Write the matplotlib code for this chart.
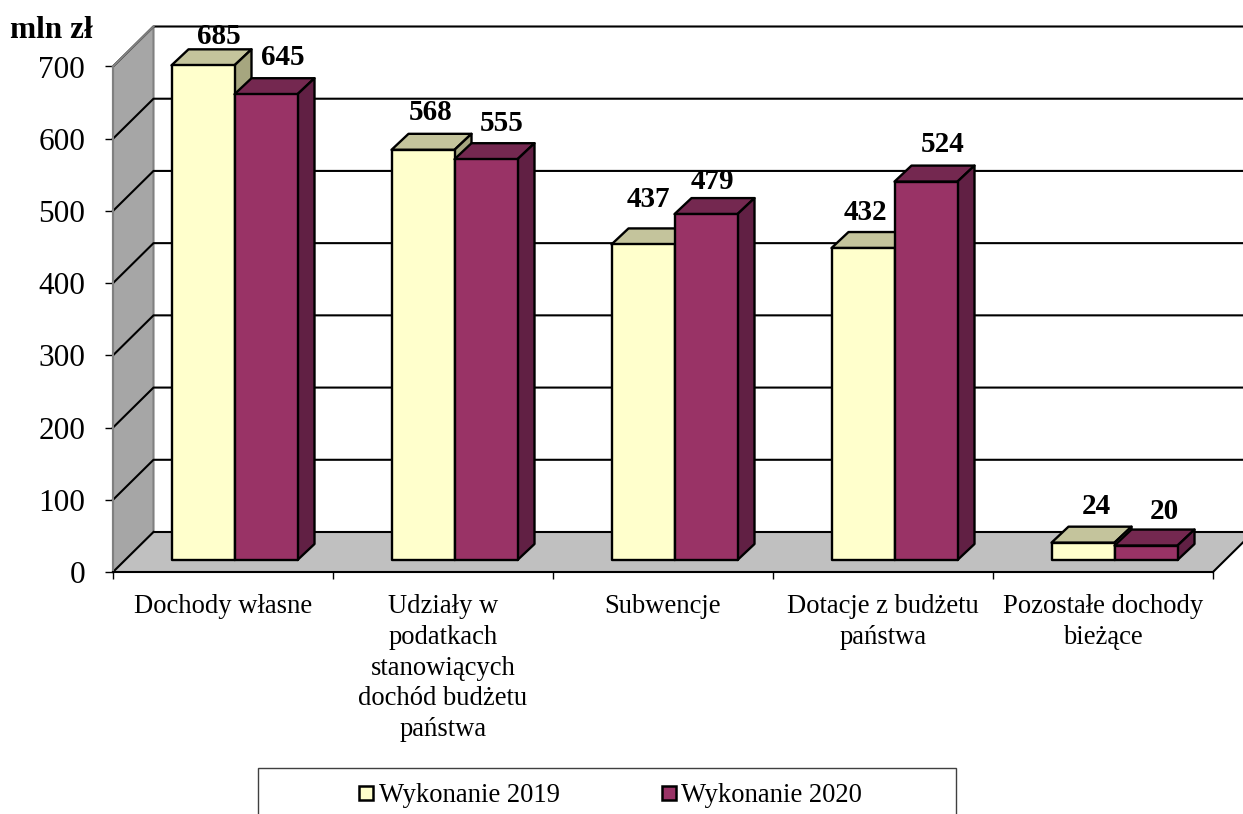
import matplotlib
matplotlib.use("Agg")
import matplotlib.pyplot as plt
from matplotlib.patches import Polygon, Rectangle
from matplotlib.lines import Line2D

plt.rcParams["font.family"] = ["Liberation Serif", "DejaVu Serif"]

categories = [
    "Dochody własne",
    "Udziały w\npodatkach\nstanowiących\ndochód budżetu\npaństwa",
    "Subwencje",
    "Dotacje z budżetu\npaństwa",
    "Pozostałe dochody\nbieżące",
]
values_2019 = [685, 568, 437, 432, 24]
values_2020 = [645, 555, 479, 524, 20]
y_ticks = [0, 100, 200, 300, 400, 500, 600, 700]
series_names = ["Wykonanie 2019", "Wykonanie 2020"]

# label shift from the top of each bar, in pixels (placed by hand in the original)
label_shift_2019 = [(16, 29), (8, 37), (5, 45), (2, 36), (13, 36)]
label_shift_2020 = [(17, 37), (16, 36), (6, 33), (17, 37), (18, 34)]

PX_X = 1 / 220.0      # one pixel in category units
PX_Y = 700 / 505.5    # one pixel in value units
WALL_X, WALL_Y = 40.5 * PX_X, 40 * PX_Y
BAR_X, BAR_Y = 17 * PX_X, 16 * PX_Y
GAP_X, GAP_Y = 11.5 * PX_X, 12 * PX_Y
BAR_W = 63 * PX_X


def draw_box(ax, x, value, front, top, side):
    """Draw one oblique bar, x is the left edge of the front face at floor depth."""
    x0, x1 = x + GAP_X, x + GAP_X + BAR_W
    y0, y1 = GAP_Y, GAP_Y + value
    style = dict(edgecolor="black", linewidth=1.7, joinstyle="round", clip_on=False)
    ax.add_patch(Polygon([(x0, y1), (x1, y1), (x1 + BAR_X, y1 + BAR_Y), (x0 + BAR_X, y1 + BAR_Y)],
                         facecolor=top, zorder=5, **style))
    ax.add_patch(Polygon([(x1, y0), (x1 + BAR_X, y0 + BAR_Y), (x1 + BAR_X, y1 + BAR_Y), (x1, y1)],
                         facecolor=side, zorder=5, **style))
    ax.add_patch(Rectangle((x0, y0), BAR_W, value, facecolor=front, zorder=5, **style))
    return (x0 + x1) / 2, y1


def bar_label(ax, value, xy, shift):
    ax.annotate(str(value), xy, xytext=(shift[0] * 0.72, shift[1] * 0.72),
                textcoords="offset points", ha="center", va="center",
                fontsize=21, fontweight="bold", zorder=8, annotation_clip=False)


fig = plt.figure(figsize=(12.43, 8.14), dpi=100)
ax = fig.add_axes([113 / 1243, 1 - 572 / 814, 1100 / 1243, 505.5 / 814])
ax.set_xlim(0, 5)
ax.set_ylim(0, 700)

# walls and floor
right_edge = (1243 - 113) * PX_X
ax.add_patch(Polygon([(0, 0), (WALL_X, WALL_Y), (WALL_X, 700 + WALL_Y), (0, 700)],
                     facecolor="#a6a6a6", edgecolor="#808080", linewidth=1.5, clip_on=False, zorder=1))
ax.add_patch(Polygon([(0, 0), (5, 0), (5 + WALL_X, WALL_Y), (WALL_X, WALL_Y)],
                     facecolor="#c0c0c0", edgecolor="none", clip_on=False, zorder=1))

for v in y_ticks[1:]:
    ax.plot([0, WALL_X, right_edge], [v, v + WALL_Y, v + WALL_Y], color="black", lw=1.5,
            clip_on=False, zorder=2)
ax.plot([0, WALL_X], [700, 700 + WALL_Y], color="#808080", lw=1.5, clip_on=False, zorder=2)
ax.plot([WALL_X, right_edge], [WALL_Y, WALL_Y], color="black", lw=1.5, clip_on=False, zorder=2)
ax.plot([0, WALL_X], [0, WALL_Y], color="black", lw=1.5, clip_on=False, zorder=2)
ax.plot([5, 5 + WALL_X], [0, WALL_Y], color="black", lw=1.5, clip_on=False, zorder=2)

# bars
for i in range(len(categories)):
    left = i + 0.5 - BAR_W
    xy = draw_box(ax, left, values_2019[i], "#ffffcc", "#c4c49c", "#a6a67f")
    bar_label(ax, values_2019[i], xy, label_shift_2019[i])
    xy = draw_box(ax, i + 0.5, values_2020[i], "#993366", "#742850", "#612044")
    bar_label(ax, values_2020[i], xy, label_shift_2020[i])

# axes
for name in ["top", "right"]:
    ax.spines[name].set_visible(False)
ax.spines["left"].set_color("#808080")
ax.spines["left"].set_zorder(3)
ax.spines["left"].set_linewidth(1.5)
ax.spines["bottom"].set_linewidth(1.5)
ax.spines["bottom"].set_zorder(3)
ax.patch.set_visible(False)
ax.set_yticks(y_ticks)
ax.tick_params(axis="y", labelsize=22.5, length=6, width=1, pad=14)
ax.set_xticks(range(6))
ax.set_xticklabels([])
ax.tick_params(axis="x", which="major", length=5, width=1)
ax.set_xticks([i + 0.5 for i in range(5)], minor=True)
ax.set_xticklabels(categories, minor=True, fontsize=19.2, linespacing=1.3, va="top")
ax.tick_params(axis="x", which="minor", length=0, pad=16)

fig.text(10 / 1243, 1 - 30 / 814, "mln zł", fontsize=22.5, fontweight="bold", va="center", ha="left")

# legend frame runs off the bottom of the picture, as in the original
fig.add_artist(Rectangle((258 / 1243, -0.02), 698 / 1243, 0.02 + 46 / 814, transform=fig.transFigure,
                         facecolor="white", edgecolor="#404040", linewidth=1))
handles = [Line2D([], [], ls="none", marker="s", markersize=9.5, markerfacecolor=c,
                  markeredgecolor="black", markeredgewidth=1.8) for c in ["#ffffcc", "#993366"]]
fig.legend(handles, series_names, ncol=2, frameon=False, fontsize=19.2, loc="center",
           bbox_to_anchor=(607.6 / 1243, 1 - 796 / 814), handletextpad=-0.03, columnspacing=3.6,
           handlelength=1.0)

fig.savefig("out.png", dpi=100)
